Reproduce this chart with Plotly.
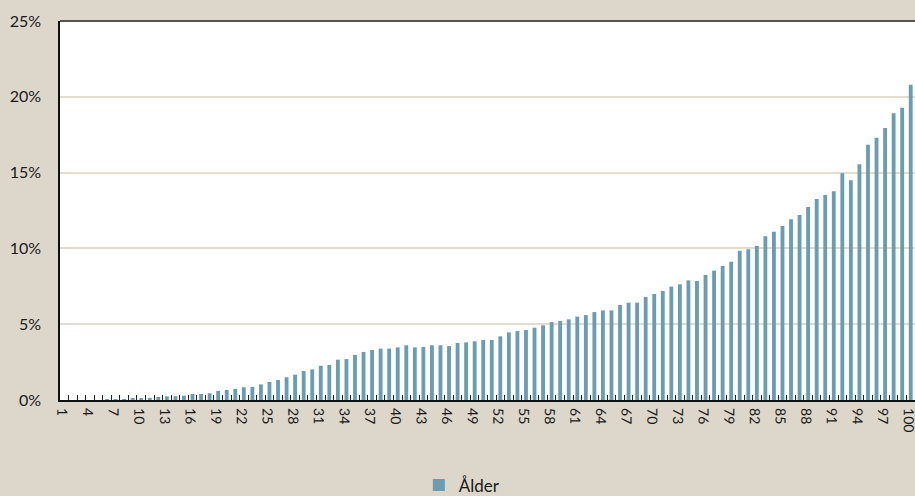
import plotly.graph_objects as go

# Age 1..100 and share (%) per age
ages = list(range(1, 101))
share = [
    0.0, 0.0, 0.0, 0.0, 0.0, 0.01, 0.02, 0.05, 0.08, 0.13,
    0.14, 0.2, 0.24, 0.25, 0.29, 0.4, 0.4, 0.44, 0.6, 0.66,
    0.73, 0.84, 0.87, 1.03, 1.19, 1.32, 1.5, 1.67, 1.91, 2.02,
    2.26, 2.31, 2.66, 2.7, 2.97, 3.17, 3.3, 3.39, 3.39, 3.47,
    3.61, 3.47, 3.5, 3.61, 3.61, 3.56, 3.76, 3.8, 3.87, 3.96,
    3.96, 4.2, 4.46, 4.55, 4.62, 4.77, 4.93, 5.14, 5.21, 5.32,
    5.5, 5.6, 5.8, 5.91, 5.91, 6.27, 6.42, 6.42, 6.79, 6.99,
    7.19, 7.48, 7.63, 7.89, 7.85, 8.25, 8.53, 8.84, 9.12, 9.85,
    9.94, 10.16, 10.8, 11.1, 11.48, 11.92, 12.2, 12.73, 13.26, 13.52,
    13.77, 14.95, 14.49, 15.55, 16.84, 17.3, 17.94, 18.91, 19.28, 20.8,
]
label_ages = ages[::3]
y_ticks = [0, 5, 10, 15, 20, 25]

BG = "#dcd6cb"
BAR = "#6a9db0"
TEXT = "#1a1a1a"
FONT = "Lato, 'DejaVu Sans', sans-serif"

fig = go.Figure()
fig.add_trace(go.Bar(
    x=ages, y=share, name="Ålder",
    marker=dict(color=BAR, line=dict(width=0)),
    width=0.45,
    showlegend=True,
))
# empty trace so the overlay label axis gets drawn
fig.add_trace(go.Scatter(x=[], y=[], xaxis="x2", yaxis="y",
                         showlegend=False, hoverinfo="skip"))

fig.update_layout(
    width=915, height=496,
    margin=dict(l=60, r=0, t=21, b=96, autoexpand=False),
    paper_bgcolor=BG, plot_bgcolor="white",
    font=dict(family=FONT, color=TEXT, size=15),
    legend=dict(
        orientation="h", x=0.47, xanchor="center", y=-0.178, yanchor="top",
        font=dict(size=17, color=TEXT), bgcolor="rgba(0,0,0,0)",
        itemwidth=30,
    ),
    # axis carrying the bars and the small category boundary ticks
    xaxis=dict(
        type="linear",
        range=[0.5, 100.5],
        tickmode="linear", tick0=0.5, dtick=1,
        ticks="inside", ticklen=5, tickwidth=1, tickcolor="#222",
        showticklabels=False,
        showgrid=False, zeroline=False,
        showline=True, linecolor="#111", linewidth=2,
    ),
    # overlay axis carrying the age labels, written top-to-bottom
    xaxis2=dict(
        type="linear",
        overlaying="x", anchor="y", side="bottom",
        range=[0.5, 100.5],
        tickmode="array", tickvals=label_ages,
        ticktext=[str(a) for a in label_ages],
        tickangle=89.9, ticklabeloverflow="allow",
        ticks="", tickfont=dict(size=14, color=TEXT),
        showgrid=False, zeroline=False, showline=False,
    ),
    yaxis=dict(
        range=[0, 25],
        tickmode="array", tickvals=y_ticks,
        ticktext=[f"{v}%" for v in y_ticks],
        ticks="", tickfont=dict(size=16, color=TEXT),
        ticklabelstandoff=14,
        showgrid=True, gridcolor="#e3dccf", gridwidth=1.5,
        zeroline=False,
        showline=True, linecolor="#111", linewidth=1.5,
    ),
)

# Top frame edge of the plot area
fig.add_shape(type="line", xref="paper", yref="paper", x0=0, x1=1, y0=1, y1=1,
              line=dict(color="#555", width=2))

fig.write_html("out.html")
